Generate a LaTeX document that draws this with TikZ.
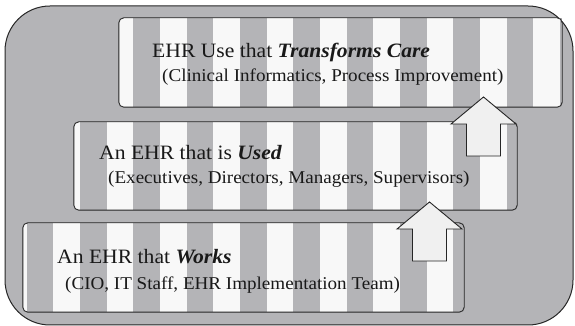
\documentclass[tikz,border=0pt]{standalone}
\usepackage{fontspec}
\setmainfont[FakeStretch=1.06]{Liberation Serif}
\begin{document}
\begin{tikzpicture}[x=1pt,y=1pt]
\definecolor{bg}{HTML}{B4B4B7}
\definecolor{stripew}{HTML}{F8F8F8}
\definecolor{arrowfill}{HTML}{F0F0F0}
\tikzset{
  stripebox/.style={fill=bg, inner sep=0pt},
  boxline/.style={draw=black!85, line width=0.9pt, rounded corners=5pt},
  headline/.style={anchor=base west, font=\fontsize{20.4}{22}\selectfont, inner sep=0pt, text=black!90},
  subline/.style={anchor=base west, font=\fontsize{18}{20}\selectfont, inner sep=0pt, text=black!90},
  blockarrow/.style={draw=black!85, line width=0.9pt, fill=arrowfill, line join=miter},
  uparrow/.pic={\draw[blockarrow] (0,0) -- (-32.5,-27) -- (-17,-27) -- (-17,-59) -- (17,-59) -- (17,-27) -- (32.5,-27) -- cycle;}
}
\useasboundingbox (0,0) rectangle (575,326);
\draw[fill=bg, draw=black!85, line width=1pt, rounded corners=45pt] (5,1) rectangle (573,320);
% boxes
\node[stripebox, minimum width=443pt, minimum height=89pt] (top) at (340.5,263.5) {};
\node[stripebox, minimum width=443pt, minimum height=88pt] (mid) at (295.5,160) {};
\node[stripebox, minimum width=441pt, minimum height=89pt] (bot) at (243.5,58.5) {};
\foreach \b in {top,mid,bot}{
  \begin{scope}
    \clip[rounded corners=5pt] (\b.south west) rectangle (\b.north east);
    \fill[stripew] (\b.south west) rectangle (\b.north east);
    \foreach \k in {0,...,10} \fill[bg] (26.667+\k*53.333,0) rectangle ++(26.667,326);
  \end{scope}
  \draw[boxline] (\b.south west) rectangle (\b.north east);
}
% texts
\node[headline] (t1) at (152,268.7) {EHR Use that \textbf{\textit{Transforms Care}}};
\node[subline] (t2) at (162,244.3) {(Clinical Informatics, Process Improvement)};
\node[headline] (m1) at (99,166.7) {An EHR that is \textbf{\textit{Used}}};
\node[subline] (m2) at (108,142) {(Executives, Directors, Managers, Supervisors)};
\node[headline] (b1) at (57,62) {An EHR that \textbf{\textit{Works}}};
\node[subline] (b2) at (65,36.7) {(CIO, IT Staff, EHR Implementation Team)};
% arrows
\coordinate (a1) at (483.5,229);
\coordinate (a2) at (429.5,124);
\pic at (a1) {uparrow};
\pic at (a2) {uparrow};
\end{tikzpicture}
\end{document}
